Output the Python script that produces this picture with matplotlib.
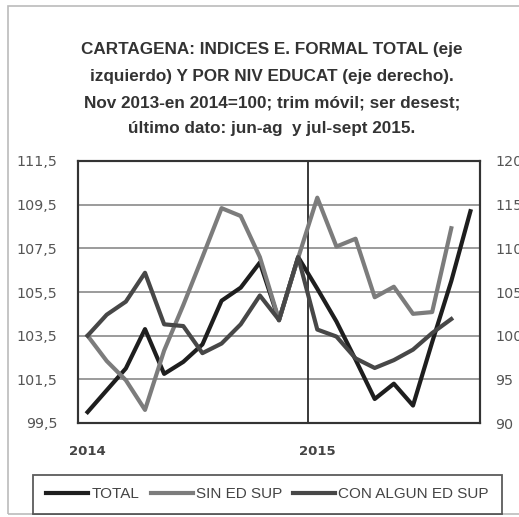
import matplotlib
matplotlib.use("Agg")
import matplotlib.pyplot as plt
from matplotlib.patches import Rectangle

# trimestre movil, 21 periodos: ene 2014 ... sep 2015
total = [100.0, 101.0, 102.0, 103.8, 101.75, 102.3, 103.1, 105.1, 105.7, 106.85,
         104.2, 107.1, 105.65, 104.15, 102.4, 100.6, 101.3, 100.3, 103.2, 106.0, 109.2]
sin_ed_sup = [100.0, 97.1, 94.9, 91.5, 98.3, 103.5, 109.0, 114.6, 113.7, 109.0,
              101.8, 108.9, 115.8, 110.2, 111.1, 104.4, 105.6, 102.5, 102.7, 112.3]
con_ed_sup = [100.0, 102.4, 103.9, 107.2, 101.3, 101.1, 98.0, 99.1, 101.3, 104.6,
              101.8, 109.0, 100.7, 99.9, 97.4, 96.3, 97.2, 98.4, 100.3, 101.9]

left_ticks = [99.5, 101.5, 103.5, 105.5, 107.5, 109.5, 111.5]
right_ticks = [90, 95, 100, 105, 110, 115, 120]
year_pos = [0, 12]
year_labels = ["2014", "2015"]

title_lines = ["CARTAGENA: INDICES E. FORMAL TOTAL (eje",
               "izquierdo) Y POR NIV EDUCAT (eje derecho).",
               "Nov 2013-en 2014=100; trim móvil; ser desest;",
               "último dato: jun-ag  y jul-sept 2015."]

fig = plt.figure(figsize=(5.19, 5.17), dpi=100)
fig.patch.set_facecolor("white")

# marco exterior del grafico (recortado a la derecha)
fig.patches.append(Rectangle((8 / 519, 3 / 517), 1.2, 1 - 9 / 517, transform=fig.transFigure,
                             fill=False, edgecolor="#bbbbbb", linewidth=1.2))

baselines = [54, 80.5, 107, 133]
for line, yb in zip(title_lines, baselines):
    fig.text(272 / 519, 1 - yb / 517, line, ha="center", va="baseline", fontsize=12.3,
             fontweight="bold", color="#333333",
             family=["Liberation Sans", "DejaVu Sans"])

ax = fig.add_axes([78 / 519, 1 - 423 / 517, 402 / 519, 262 / 517])
ax2 = ax.twinx()

x_total = list(range(len(total)))
x_edu = list(range(len(sin_ed_sup)))

ax.plot(x_total, total, color="#1e1e1e", linewidth=3.0, solid_joinstyle="round", zorder=3)
ax2.plot(x_edu, sin_ed_sup, color="#7c7c7c", linewidth=3.0, solid_joinstyle="round")
ax2.plot(x_edu, con_ed_sup, color="#474747", linewidth=3.0, solid_joinstyle="round")

ax.set_xlim(-0.5, 20.5)
ax.set_ylim(99.5, 111.5)
ax2.set_ylim(90, 120)
ax.set_yticks(left_ticks)
ax.set_yticklabels([f"{v:.1f}".replace(".", ",") for v in left_ticks])
ax2.set_yticks(right_ticks)
ax.set_xticks(year_pos)
ax.set_xticklabels(year_labels)

ax.grid(axis="y", color="#8a8a8a", linewidth=1.2)
ax.axvline(11.5, color="#2a2a2a", linewidth=1.3)
ax.set_axisbelow(True)

for a in (ax, ax2):
    for s in a.spines.values():
        s.set_color("#333333")
        s.set_linewidth(1.5)

ax.tick_params(axis="y", length=0, pad=15, labelsize=10.3, labelcolor="#555555")
ax2.tick_params(axis="y", length=0, pad=11, labelsize=10.3, labelcolor="#555555")
ax.tick_params(axis="x", length=0, pad=16, labelsize=9.5, labelcolor="#444444")
for lab in ax.get_xticklabels():
    lab.set_fontweight("bold")

# leyenda
handles = [plt.Line2D([], [], color="#1e1e1e", linewidth=3.0),
           plt.Line2D([], [], color="#7c7c7c", linewidth=3.0),
           plt.Line2D([], [], color="#474747", linewidth=3.0)]
leg = fig.legend(handles, ["TOTAL", "SIN ED SUP", "CON ALGUN ED SUP"],
                 loc="center", bbox_to_anchor=(267.5 / 519, 1 - 494.5 / 517), ncol=3,
                 frameon=True, fancybox=False, handlelength=2.75, handletextpad=0.2,
                 columnspacing=0.75, borderpad=0.85,
                 prop={"family": ["Liberation Sans", "DejaVu Sans"], "size": 11})
leg.get_frame().set_edgecolor("#333333")
leg.get_frame().set_linewidth(1.3)
for t in leg.get_texts():
    t.set_color("#444444")

fig.savefig("out.png", dpi=100)
